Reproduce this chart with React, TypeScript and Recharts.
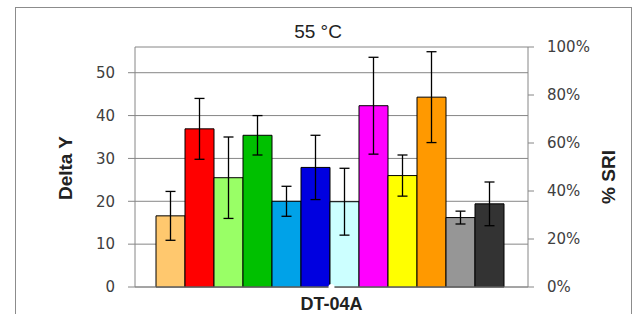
import React from 'react';
import { ComposedChart, Bar, Line, XAxis, YAxis, CartesianGrid, ErrorBar } from 'recharts';

const categories = ['DT-04A'];
const seriesKeys = ['b1', 'b2', 'b3', 'b4', 'b5', 'b6', 'b7', 'b8', 'b9', 'b10', 'b11', 'b12'];
const values = [16.6, 36.9, 25.5, 35.4, 20.0, 27.9, 19.9, 42.3, 26.0, 44.3, 16.2, 19.4];
const errors = [5.7, 7.1, 9.5, 4.6, 3.5, 7.5, 7.8, 11.3, 4.8, 10.6, 1.5, 5.1];
const colors = [
  '#ffc86e', '#ff0000', '#99ff66', '#00c000', '#00a2e8', '#0000e0',
  '#ccffff', '#ff00ff', '#ffff00', '#ff9900', '#969696', '#333333',
];
const leftTicks = [0, 10, 20, 30, 40, 50];
const rightTicks = [0, 0.2, 0.4, 0.6, 0.8, 1];

const data = categories.map((name) => {
  const row: Record<string, string | number> = { name, sri: 0 };
  seriesKeys.forEach((k, i) => {
    row[k] = values[i];
    row[k + '_err'] = errors[i];
  });
  return row;
});

const axisGrey = '#868686';
const tickFont = { fontFamily: 'DejaVu Sans', fontSize: 15, fill: '#404040' };

export default function App() {
  return (
    <div style={{ position: 'absolute', left: 0, top: 0, width: 637, height: 314, overflow: 'hidden', background: '#fff' }}>
      <div style={{ position: 'absolute', left: 15, top: 7, width: 615, height: 330, border: '1px solid #8c8c8c' }} />
      <ComposedChart
        width={637}
        height={314}
        data={data}
        margin={{ top: 47, right: 49, bottom: 7, left: 75 }}
        barGap={0}
        barCategoryGap={21}
        style={{ position: 'absolute', left: 0, top: 0 }}
      >
        <CartesianGrid yAxisId="left" vertical={false} stroke={axisGrey} strokeWidth={1} />
        <XAxis
          dataKey="name"
          height={20}
          tickLine={false}
          tickSize={0}
          tickMargin={10}
          stroke={axisGrey}
          tick={{ fontFamily: 'Liberation Sans', fontSize: 18, fontWeight: 'bold', fill: '#222' }}
        />
        <YAxis
          yAxisId="left"
          width={60}
          domain={[0, 56]}
          ticks={leftTicks}
          interval={0}
          tickSize={7}
          tickMargin={13}
          stroke={axisGrey}
          tick={tickFont}
        />
        <YAxis
          yAxisId="right"
          orientation="right"
          width={60}
          domain={[0, 1]}
          ticks={rightTicks}
          interval={0}
          tickSize={6}
          tickMargin={13}
          stroke={axisGrey}
          tick={{ ...tickFont, textAnchor: 'start' }}
          tickFormatter={(v: number) => `${Math.round(v * 100)}%`}
        />
        {seriesKeys.map((k, i) => (
          <Bar key={k} yAxisId="left" dataKey={k} fill={colors[i]} stroke="#000" strokeWidth={1} isAnimationActive={false}>
            <ErrorBar dataKey={k + '_err'} width={5} stroke="#000" strokeWidth={1.3} direction="y" />
          </Bar>
        ))}
        <Line
          yAxisId="right"
          dataKey="sri"
          stroke="none"
          dot={false}
          activeDot={false}
          legendType="none"
          isAnimationActive={false}
        />
      </ComposedChart>
      <svg width={637} height={314} style={{ position: 'absolute', left: 0, top: 0, pointerEvents: 'none' }}>
        <text x={318} y={31} textAnchor="middle" dominantBaseline="central" fontFamily="Liberation Sans" fontSize={19} fill="#222">
          55 °C
        </text>
        <text
          x={65}
          y={168}
          transform="rotate(-90 65 168)"
          textAnchor="middle"
          dominantBaseline="central"
          fontFamily="Liberation Sans"
          fontSize={19}
          fontWeight="bold"
          fill="#222"
        >
          Delta Y
        </text>
        <text
          x={608}
          y={177}
          transform="rotate(-90 608 177)"
          textAnchor="middle"
          dominantBaseline="central"
          fontFamily="Liberation Sans"
          fontSize={19}
          fontWeight="bold"
          fill="#222"
        >
          % SRI
        </text>
      </svg>
    </div>
  );
}
